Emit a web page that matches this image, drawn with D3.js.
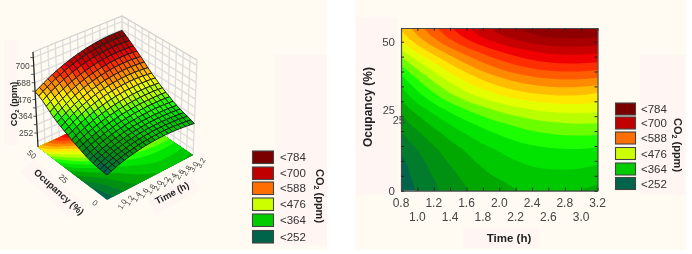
<!DOCTYPE html>
<html>
<head>
<meta charset="utf-8">
<script src="https://cdnjs.cloudflare.com/ajax/libs/d3/7.8.5/d3.min.js"></script>
<style>
  html, body { margin: 0; padding: 0; background: #fff; }
  svg { display: block; filter: blur(0.35px); }
  text { font-family: "Liberation Sans", Arial, sans-serif; }
</style>
</head>
<body>
<svg id="chart" width="692" height="254"></svg>
<script>
const times = [0.8, 0.92, 1.04, 1.16, 1.28, 1.4, 1.52, 1.64, 1.76, 1.88, 2.0, 2.12, 2.24, 2.36, 2.48, 2.6, 2.72, 2.84, 2.96, 3.08, 3.2];
const occupancies = [0, 2.73, 5.46, 8.19, 10.92, 13.65, 16.38, 19.11, 21.84, 24.57, 27.3, 30.03, 32.76, 35.49, 38.22, 40.95, 43.68, 46.41, 49.14, 51.87, 54.6];

// one row per occupancy, one column per time
const co2 = [
  [232,246,259,271,282,292,301,309,317,323,328,332,336,338,340,340,340,338,336,332,328],
  [235,249,262,274,285,296,305,313,321,327,333,338,342,345,347,348,348,347,345,343,339],
  [238,253,266,279,290,301,311,320,328,335,341,346,351,354,356,358,358,358,357,354,351],
  [242,257,271,284,296,307,318,327,335,343,349,355,359,363,366,367,368,368,367,365,362],
  [248,263,277,290,303,314,324,334,343,350,357,363,368,372,375,377,378,379,378,377,374],
  [255,270,284,298,310,322,332,342,351,359,366,372,377,382,385,388,389,390,390,389,387],
  [265,281,295,309,322,334,345,355,364,373,380,386,392,397,400,403,405,406,406,405,403],
  [277,293,307,321,334,347,358,368,378,386,394,401,407,412,416,420,422,424,424,424,423],
  [291,307,322,336,350,362,374,384,394,403,411,418,424,430,434,438,440,442,443,443,442],
  [303,320,336,352,366,379,392,403,413,423,431,439,445,451,455,459,461,463,464,463,462],
  [318,337,354,370,386,400,413,425,436,446,455,463,469,475,480,483,485,487,487,486,484],
  [336,356,375,392,409,424,438,451,462,473,482,490,497,503,507,510,513,513,513,512,509],
  [351,373,394,413,431,448,463,477,489,500,510,518,525,531,535,538,540,540,539,536,532],
  [368,391,413,433,452,469,485,500,513,525,535,544,552,558,562,566,568,568,567,565,561],
  [387,411,433,454,474,492,509,524,538,550,561,571,579,585,591,594,597,598,597,595,592],
  [409,434,457,478,498,517,534,550,564,577,588,598,606,613,619,623,625,626,626,624,621],
  [436,460,483,504,524,543,560,576,590,603,614,624,633,640,646,650,653,654,654,653,650],
  [466,490,512,533,552,570,587,602,616,629,640,650,658,665,671,675,678,679,679,678,675],
  [496,520,542,563,582,601,617,633,646,659,670,680,688,695,700,705,707,709,708,707,704],
  [518,542,565,586,606,624,641,657,671,684,695,705,714,721,727,731,734,736,736,735,732],
  [537,560,582,603,623,641,658,673,687,700,712,722,731,739,746,751,755,757,758,758,757]
];

const levels = [252,280,308,336,364,392,420,448,476,504,532,560,588,616,644,672,700,728,756];
const bandColors = ["#00644a","#007c2c","#009012","#00a800","#00c800","#00e400","#1cff00","#6cff00","#b8ff00","#e4ff00","#ffe800","#ffbc00","#ff8a00","#ff5c00","#ff2e00","#f00000","#c80000","#a80000","#900000","#7a0000"];

const legendLabels = ["<784","<700","<588","<476","<364","<252"];
const legendColors = ["#7a0000","#c00000","#ff6e00","#ccff00","#00cc00","#00644a"];

const zTicks = [252,364,476,588,700];
const zGrid = [196,252,308,364,420,476,532,588,644,700,756];
const timeTicks3d = [1.0,1.2,1.4,1.6,1.8,2.0,2.2,2.4,2.6,2.8,3.0,3.2];
const timeGrid = [0.8,1.0,1.2,1.4,1.6,1.8,2.0,2.2,2.4,2.6,2.8,3.0,3.2];
const occTicks3d = [0,25,50];
const occGrid = [0,5,10,15,20,25,30,35,40,45,50,54.6];
const timeTicksTop = [0.8,1.2,1.6,2.0,2.4,2.8,3.2];
const timeTicksLow = [1.0,1.4,1.8,2.2,2.6,3.0];
const timeTickMarks = [0.8,1.0,1.2,1.4,1.6,1.8,2.0,2.2,2.4,2.6,2.8,3.0,3.2];
const occTickMarks = [0,5,10,15,20,25,30,35,40,45,50];

const svg = d3.select("#chart");
const color = d3.scaleThreshold().domain(levels).range(bandColors);
const cream = "#fffbf2", pink = "#fff5f3", ink = "#454545";

// backgrounds
const bg = svg.append("g");
[[0,0,327,250,cream],[275,55,52,190,pink],[355,0,331,250,cream],[356,17,41,178,pink],
 [640,55,46,140,pink],[463,228,76,20,pink],[4,40,14,105,pink]].forEach(r =>
  bg.append("rect").attr("x",r[0]).attr("y",r[1]).attr("width",r[2]).attr("height",r[3]).attr("fill",r[4]));
bg.append("polygon").attr("points","20,172 34,160 86,205 70,218").attr("fill",pink);
bg.append("polygon").attr("points","148,200 192,176 200,190 156,214").attr("fill",pink);

// contour geometry shared by the flat plot and the floor of the 3D plot
const n = times.length;
const gridT = d3.scaleLinear().domain([0.5,n-0.5]).range([times[0],times[n-1]]).clamp(true);
const gridO = d3.scaleLinear().domain([0.5,n-0.5]).range([occupancies[0],occupancies[n-1]]).clamp(true);
const contours = d3.contours().size([n,n]).thresholds(levels)(co2.flat());
const contourPath = fn => d3.geoPath(d3.geoTransform({
  point(x,y) { const p = fn(gridT(x),gridO(y)); this.stream.point(p[0],p[1]); }
}));

// 3D box, corners on screen
const floorF = [107,200], floorL = [38,147], floorR = [193,155], floorB = [123,108];
const topF = [107,85], topL = [33,52], topR = [197,60], topB = [122,16];
const uScale = d3.scaleLinear().domain([0.8,3.2]).range([0,1]);
const vScale = d3.scaleLinear().domain([0,54.6]).range([0,1]);
const wScale = d3.scaleLinear().domain([50,888]).range([0,1]);
const wGrid = d3.scaleLinear().domain([252,700]).range([0.147,0.853]);
const lerp = (a,b,f) => [a[0]+(b[0]-a[0])*f, a[1]+(b[1]-a[1])*f];
const corner = (u,v,f,l,r,b) => lerp(lerp(f,r,u),lerp(l,b,u),v);
const boxPoint = (u,v,w) => lerp(corner(u,v,floorF,floorL,floorR,floorB),corner(u,v,topF,topL,topR,topB),w);
const project = (t,o,c) => boxPoint(uScale(t),vScale(o),wScale(c));

const line = d3.line();
const left = svg.append("g");

// walls
const walls = left.append("g").attr("fill","none").attr("stroke","#dcdcdc").attr("stroke-width",1.3);
timeGrid.forEach(t => walls.append("path").attr("d",line([boxPoint(uScale(t),1,0),boxPoint(uScale(t),1,1)])));
occGrid.forEach(o => walls.append("path").attr("d",line([boxPoint(1,vScale(o),0),boxPoint(1,vScale(o),1)])));
zGrid.forEach(z => walls.append("path").attr("d",line([boxPoint(0,1,wGrid(z)),boxPoint(1,1,wGrid(z)),boxPoint(1,0,wGrid(z))])));
walls.append("path").attr("d",line([topL,topB,topR])).attr("stroke","#d0d0d0");

// floor
const floorPath = contourPath((t,o) => boxPoint(uScale(t),vScale(o),0));
left.append("path").attr("d",line([floorF,floorR,floorB,floorL])+"Z").attr("fill",bandColors[0]);
left.append("g").selectAll("path").data(contours).join("path")
  .attr("d",floorPath)
  .attr("fill",d => color(d.value));

// surface, back to front
const quads = [];
for (let j = n-2; j >= 0; j--) {
  for (let i = n-2; i >= 0; i--) {
    quads.push({
      value: d3.mean([co2[j][i],co2[j][i+1],co2[j+1][i],co2[j+1][i+1]]),
      pts: [[i,j],[i+1,j],[i+1,j+1],[i,j+1]].map(q => project(times[q[0]],occupancies[q[1]],co2[q[1]][q[0]]))
    });
  }
}
left.append("g").selectAll("path").data(quads).join("path")
  .attr("d",d => line(d.pts)+"Z")
  .attr("fill",d => color(d.value))
  .attr("stroke","#1c1c1c")
  .attr("stroke-width",0.95)
  .attr("stroke-linejoin","round");

// z axis
const zAxisG = left.append("g");
zAxisG.append("path").attr("d",line([topL,floorL])).attr("stroke","#222").attr("stroke-width",1.2);
zGrid.slice(1).forEach(z => {
  const p = boxPoint(0,1,wGrid(z));
  zAxisG.append("path").attr("d",line([[p[0]-3,p[1]],p])).attr("stroke","#333").attr("stroke-width",0.8);
});
left.append("g").selectAll("text").data(zTicks).join("text")
  .attr("x",d => boxPoint(0,1,wGrid(d))[0]-4)
  .attr("y",d => boxPoint(0,1,wGrid(d))[1]+3)
  .attr("text-anchor","end").attr("font-size",8.5).attr("fill",ink)
  .text(d => d);

left.append("g").selectAll("text").data(occTicks3d).join("text")
  .attr("transform",d => {
    const p = boxPoint(0,vScale(d),0);
    return `translate(${p[0]-12},${p[1]+3}) rotate(42)`;
  })
  .attr("text-anchor","middle").attr("dy","0.35em").attr("font-size",8).attr("fill",ink)
  .text(d => d);

left.append("g").selectAll("text").data(timeTicks3d).join("text")
  .attr("transform",d => {
    const p = boxPoint(uScale(d),0,0);
    return `translate(${p[0]+8},${p[1]+8}) rotate(-60)`;
  })
  .attr("text-anchor","middle").attr("dy","0.35em").attr("font-size",7.5).attr("fill",ink)
  .text(d => d.toFixed(1));

const co2Title = (g,x,y,rot,size) => {
  const t = g.append("text")
    .attr("transform",`translate(${x},${y}) rotate(${rot})`)
    .attr("text-anchor","middle").attr("font-size",size).attr("font-weight","bold").attr("fill","#222");
  t.append("tspan").text("CO");
  t.append("tspan").attr("font-size",size*0.65).attr("dy",size*0.22).text("2");
  t.append("tspan").attr("dy",-size*0.22).text(" (ppm)");
};
co2Title(left,17,104,-90,9);
left.append("text").attr("transform","translate(59,192) rotate(42)")
  .attr("text-anchor","middle").attr("dy","0.35em").attr("font-size",9.5).attr("font-weight","bold").attr("fill","#222")
  .text("Ocupancy (%)");
left.append("text").attr("transform","translate(172,193) rotate(-28)")
  .attr("text-anchor","middle").attr("dy","0.35em").attr("font-size",9.5).attr("font-weight","bold").attr("fill","#222")
  .text("Time (h)");

// flat contour plot
const x = d3.scaleLinear().domain([0.8,3.2]).range([401,597.5]);
const y = d3.scaleLinear().domain([0,54.6]).range([190.7,28]);
const right = svg.append("g");
right.append("rect").attr("x",401).attr("y",28).attr("width",196.5).attr("height",162.7).attr("fill",bandColors[0]);
const flatPath = contourPath((t,o) => [x(t),y(o)]);
right.append("g").selectAll("path").data(contours).join("path")
  .attr("d",flatPath)
  .attr("fill",d => color(d.value));

const frame = (axis,tx,ty) => right.append("g")
  .attr("transform",`translate(${tx},${ty})`)
  .call(axis.tickSize(-3).tickSizeOuter(0).tickFormat(""))
  .call(g => g.select(".domain").attr("stroke","#4a4a4a").attr("stroke-width",1.2))
  .call(g => g.selectAll(".tick line").attr("stroke","#222"));
frame(d3.axisBottom(x).tickValues(timeTickMarks),0,190.7);
frame(d3.axisTop(x).tickValues(timeTickMarks),0,28);
frame(d3.axisLeft(y).tickValues(occTickMarks),401,0);
frame(d3.axisRight(y).tickValues(occTickMarks),597.5,0);

const xLabels = (vals,yPos) => right.append("g").selectAll("text").data(vals).join("text")
  .attr("x",d => x(d)).attr("y",yPos)
  .attr("text-anchor","middle").attr("font-size",12).attr("fill",ink)
  .text(d => d.toFixed(1));
xLabels(timeTicksTop,207);
xLabels(timeTicksLow,221);

right.append("g").selectAll("text").data([50,0]).join("text")
  .attr("x",395).attr("y",d => y(d)+4)
  .attr("text-anchor","end").attr("font-size",11.5).attr("fill",ink)
  .text(d => d);
// the original has its 25 twice, once pasted across the axis
right.append("text").attr("x",395).attr("y",113.5).attr("text-anchor","end").attr("font-size",11).attr("fill",ink).text("25");
right.append("text").attr("x",405).attr("y",124).attr("text-anchor","end").attr("font-size",11).attr("fill",ink).text("25");

right.append("text").attr("transform","translate(372,107) rotate(-90)")
  .attr("text-anchor","middle").attr("font-size",12).attr("font-weight","bold").attr("fill","#222")
  .text("Ocupancy (%)");
right.append("text").attr("x",509).attr("y",242)
  .attr("text-anchor","middle").attr("font-size",11.5).attr("font-weight","bold").attr("fill","#222")
  .text("Time (h)");

// legends
const legend = (swX,swW,swH,tops,labelX,titleX,titleY) => {
  const g = svg.append("g");
  const keys = legendLabels.map((label,i) => ({label, fill: legendColors[i], top: tops[i]}));
  g.selectAll("rect").data(keys).join("rect")
    .attr("x",swX).attr("y",d => d.top).attr("width",swW).attr("height",swH)
    .attr("fill",d => d.fill).attr("stroke","#444").attr("stroke-width",1.1);
  g.selectAll("text").data(keys).join("text")
    .attr("x",labelX).attr("y",d => d.top+swH/2+4)
    .attr("font-size",11.5).attr("fill","#333")
    .text(d => d.label);
  co2Title(g,titleX,titleY,90,11);
};
legend(252.5,21,12.5,[151,167,182,198,214,230.5],280,316,196);
legend(615.5,20,12,[103,117,132,147.5,163,177.5],641,674,145);
</script>
</body>
</html>
